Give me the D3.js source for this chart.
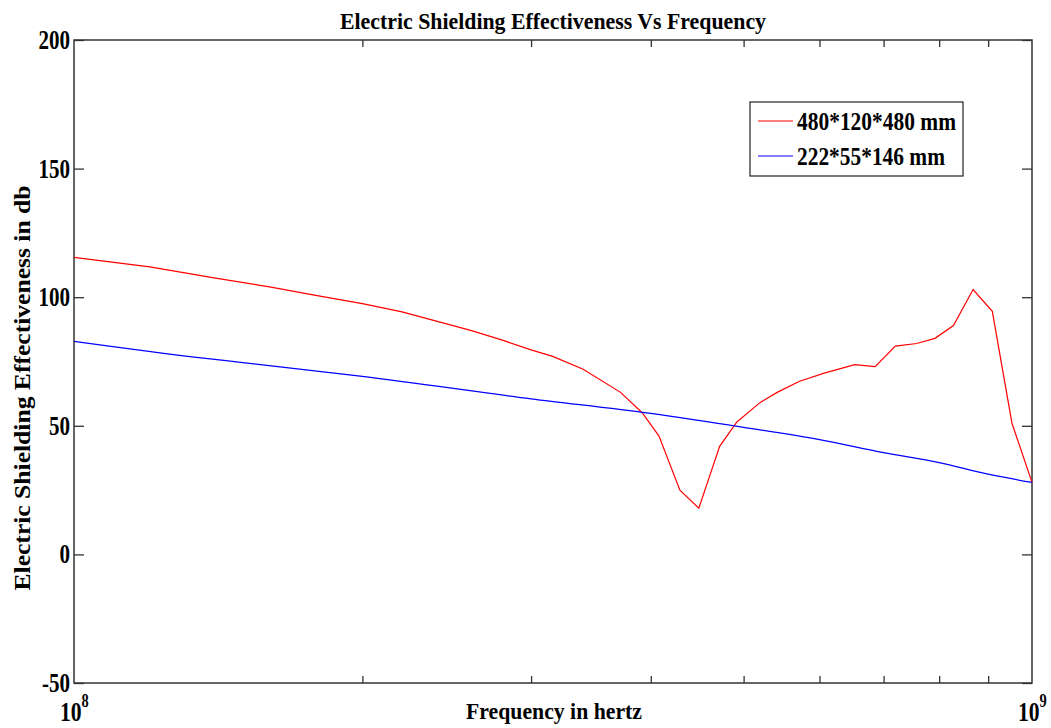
<!DOCTYPE html>
<html>
<head>
<meta charset="utf-8">
<script src="https://cdn.jsdelivr.net/npm/d3@7"></script>
<style>
  body { margin: 0; background: #fff; }
  text { font-family: 'Liberation Serif', 'Times New Roman', serif; font-weight: bold; fill: #000; }
</style>
</head>
<body>
<svg width="1051" height="728"></svg>
<script>
// frequencies in MHz, shielding effectiveness in dB
const redFreq = [100, 120, 140, 160, 180, 200, 220, 240, 260, 280, 300, 316, 340, 372, 392, 408, 429, 449, 472, 492, 520, 542, 572, 607, 653, 686, 720, 758, 792, 828, 868, 909, 953, 1000];
const redSE   = [115.5, 111.8, 107.5, 104, 100.5, 97.5, 94.3, 90.5, 87, 83.3, 79.5, 77, 72, 63, 55, 46, 25, 18, 42, 51.5, 59, 63, 67.3, 70.5, 73.8, 73, 81, 82, 84, 89, 103, 94.5, 51, 28];
const blueFreq = [100, 135, 150, 200, 300, 400, 500, 600, 700, 800, 900, 1000];
const blueSE   = [82.8, 76.5, 74.6, 69.2, 60.5, 54.8, 49.4, 44.6, 39.6, 35.7, 31.2, 28];
const seriesNames = ['480*120*480 mm', '222*55*146 mm'];
const seriesColors = ['#ff0000', '#0000ff'];
const yTicks = [-50, 0, 50, 100, 150, 200];
const xMinorTicks = [2e8, 3e8, 4e8, 5e8, 6e8, 7e8, 8e8, 9e8];

let svg = d3.select('svg');
let plotL = 74, plotR = 1032, plotT = 40, plotB = 683;

let x = d3.scaleLog().domain([1e8, 1e9]).range([plotL, plotR]);
let y = d3.scaleLinear().domain([-50, 200]).range([plotB, plotT]);

// ticks pointing inward, on all four sides
svg.append('g')
   .attr('transform', `translate(${plotL},0)`)
   .call(d3.axisLeft(y).tickValues(yTicks).tickSize(-10).tickFormat(''))
   .call(g => g.select('.domain').remove());
svg.append('g')
   .attr('transform', `translate(${plotR},0)`)
   .call(d3.axisRight(y).tickValues(yTicks).tickSize(-10).tickFormat(''))
   .call(g => g.select('.domain').remove());
svg.append('g')
   .attr('transform', `translate(0,${plotB})`)
   .call(d3.axisBottom(x).tickValues(xMinorTicks).tickSize(-7).tickFormat(''))
   .call(g => g.select('.domain').remove());
svg.append('g')
   .attr('transform', `translate(0,${plotT})`)
   .call(d3.axisTop(x).tickValues(xMinorTicks).tickSize(-7).tickFormat(''))
   .call(g => g.select('.domain').remove());
svg.selectAll('.tick line').style('stroke', '#333').style('stroke-width', '1.3px');

svg.append('rect')
   .attr('x', plotL).attr('y', plotT)
   .attr('width', plotR - plotL).attr('height', plotB - plotT)
   .style('fill', 'none')
   .style('stroke', '#333')
   .style('stroke-width', '1.5px');

// y tick labels (the original font is tall and narrow)
svg.selectAll('.ylab')
   .data(yTicks)
   .enter()
   .append('text')
   .attr('class', 'ylab')
   .text(d => d)
   .attr('transform', d => `translate(${plotL - 4},${y(d) + 9}) scale(0.78,1)`)
   .style('text-anchor', 'end')
   .style('font-size', '27px');

// x decade labels with superscript
[1e8, 1e9].forEach(v => {
  let t = svg.append('text')
             .attr('transform', `translate(${x(v) - 14},721) scale(0.8,1)`)
             .style('font-size', '27px');
  t.append('tspan').text('10');
  t.append('tspan').text(Math.round(Math.log10(v))).attr('dy', -14).style('font-size', '18px');
});

let line = d3.line()
             .x(d => x(d[0] * 1e6))
             .y(d => y(d[1]));
let blueLine = d3.line()
             .curve(d3.curveMonotoneX)
             .x(d => x(d[0] * 1e6))
             .y(d => y(d[1]));

svg.append('path')
   .datum(d3.zip(redFreq, redSE))
   .attr('d', line)
   .style('fill', 'none')
   .style('stroke', seriesColors[0])
   .style('stroke-width', '1.2px');

svg.append('path')
   .datum(d3.zip(blueFreq, blueSE))
   .attr('d', blueLine)
   .style('fill', 'none')
   .style('stroke', seriesColors[1])
   .style('stroke-width', '1.2px');

// titles
svg.append('text')
   .text('Electric Shielding Effectiveness Vs Frequency')
   .attr('x', 553).attr('y', 29)
   .attr('textLength', 426).attr('lengthAdjust', 'spacingAndGlyphs')
   .style('text-anchor', 'middle')
   .style('font-size', '23px');

svg.append('text')
   .text('Frequency in hertz')
   .attr('x', 554).attr('y', 719)
   .attr('textLength', 176).attr('lengthAdjust', 'spacingAndGlyphs')
   .style('text-anchor', 'middle')
   .style('font-size', '23px');

svg.append('text')
   .text('Electric Shielding Effectiveness in db')
   .attr('transform', 'translate(30,388) rotate(-90)')
   .attr('textLength', 405).attr('lengthAdjust', 'spacingAndGlyphs')
   .style('text-anchor', 'middle')
   .style('font-size', '24px');

// legend
let legendG = svg.append('g').attr('transform', 'translate(750,102)');
legendG.append('rect')
   .attr('width', 213).attr('height', 74)
   .style('fill', '#fff')
   .style('stroke', '#333')
   .style('stroke-width', '1.3px');
let legLens = [159, 148];
let legItems = legendG.selectAll('.legItem')
   .data(seriesNames)
   .enter()
   .append('g')
   .attr('class', 'legItem')
   .attr('transform', (d, i) => `translate(0, ${19 + i * 35})`);
legItems.append('line')
   .attr('x1', 8).attr('x2', 43)
   .style('stroke', (d, i) => seriesColors[i])
   .style('stroke-width', '1.2px');
legItems.append('text')
   .text(d => d)
   .attr('x', 47).attr('y', 9)
   .attr('textLength', (d, i) => legLens[i]).attr('lengthAdjust', 'spacingAndGlyphs')
   .style('font-size', '25px');
</script>
</body>
</html>
